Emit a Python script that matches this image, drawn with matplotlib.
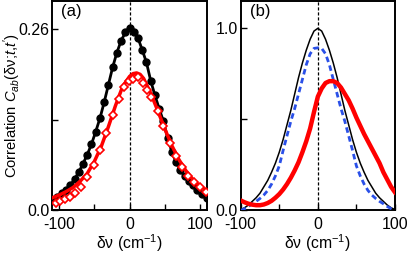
import numpy             as np
import matplotlib
matplotlib.use('Agg')
import matplotlib.pyplot as plt

plt.rcParams['font.family']         = ['Liberation Sans', 'DejaVu Sans']
plt.rcParams['mathtext.fontset']    = 'custom'
plt.rcParams['mathtext.rm']         = 'Liberation Sans'
plt.rcParams['mathtext.it']         = 'Liberation Sans:italic'
plt.rcParams['axes.unicode_minus']  = False

# panel (a): measured correlation (dots / diamonds) and fits (lines)
black_x = [-110, -103, -96, -90, -84, -78, -72, -66, -60, -54, -48, -42, -36, -30, -24, -18, -12, -6, 0,
           6, 12, 18, 24, 30, 36, 42, 48, 54, 60, 66, 72, 78, 84, 90, 96, 103, 110]
black_y = [0.015, 0.019, 0.025, 0.030, 0.036, 0.045, 0.055, 0.067, 0.080, 0.095, 0.113, 0.132, 0.155,
           0.180, 0.205, 0.226, 0.243, 0.255, 0.262, 0.256, 0.247, 0.230, 0.212, 0.186, 0.165, 0.146,
           0.128, 0.104, 0.084, 0.069, 0.058, 0.049, 0.042, 0.036, 0.030, 0.024, 0.018]

red_x = [-105, -98, -91, -84, -77, -69, -60, -51, -42, -33, -24, -15, -8, -1, 5, 12, 19, 25, 31,
         40, 48, 57, 66, 75, 83, 92, 100, 108]
red_y = [0.011, 0.013, 0.016, 0.020, 0.025, 0.033, 0.048, 0.065, 0.087, 0.111, 0.137, 0.159, 0.177,
         0.186, 0.189, 0.191, 0.183, 0.173, 0.162, 0.142, 0.121, 0.097, 0.078, 0.062, 0.050, 0.041,
         0.033, 0.026]

red_fit_x = [-110, -100, -90, -80, -70, -60, -50, -40, -30, -20, -10, 0, 5, 10, 15, 20, 30, 40, 50,
             60, 70, 80, 90, 100, 110]
red_fit_y = [0.018, 0.022, 0.027, 0.033, 0.042, 0.053, 0.070, 0.092, 0.120, 0.150, 0.177, 0.192,
             0.196, 0.197, 0.195, 0.189, 0.168, 0.143, 0.117, 0.093, 0.073, 0.057, 0.044, 0.035, 0.028]

# panel (b): model curves
model_x = [-100, -95, -90, -85, -80, -75, -70, -65, -60, -55, -50, -45, -40, -35, -30, -25, -20, -15,
           -10, -5, 0, 5, 10, 15, 20, 25, 30, 35, 40, 45, 50, 55, 60, 65, 70, 75, 80, 85, 90, 95, 100]
black_b = [0.005, 0.015, 0.03, 0.05, 0.07, 0.095, 0.13, 0.165, 0.21, 0.26, 0.32, 0.39, 0.47, 0.55,
           0.64, 0.73, 0.81, 0.88, 0.94, 0.985, 1.0, 0.985, 0.94, 0.88, 0.81, 0.73, 0.64, 0.55, 0.47,
           0.39, 0.32, 0.26, 0.21, 0.165, 0.13, 0.095, 0.07, 0.05, 0.03, 0.015, 0.005]
blue_b  = [0.0, 0.01, 0.022, 0.037, 0.05, 0.066, 0.085, 0.11, 0.145, 0.19, 0.245, 0.33, 0.41, 0.49,
           0.56, 0.64, 0.72, 0.80, 0.86, 0.89, 0.893, 0.89, 0.86, 0.80, 0.72, 0.64, 0.56, 0.49, 0.41,
           0.33, 0.245, 0.19, 0.145, 0.11, 0.085, 0.066, 0.05, 0.037, 0.022, 0.01, 0.0]
red_b   = [0.055, 0.045, 0.037, 0.032, 0.029, 0.029, 0.033, 0.041, 0.053, 0.070, 0.090, 0.115, 0.145,
           0.180, 0.220, 0.265, 0.320, 0.380, 0.450, 0.540, 0.625, 0.670, 0.700, 0.710, 0.710, 0.700,
           0.675, 0.640, 0.605, 0.560, 0.510, 0.465, 0.420, 0.380, 0.340, 0.300, 0.260, 0.210, 0.170,
           0.130, 0.100]

fig = plt.figure(figsize = (4.08, 2.57), dpi = 100)
ax1 = fig.add_axes([0.1275, 0.181, 0.38, 0.815])
ax2 = fig.add_axes([0.590, 0.181, 0.378, 0.815])

ax1.plot(black_x, black_y, color = 'black', lw = 2, marker = 'o', ms = 5, zorder = 3)
ax1.plot(red_fit_x, red_fit_y, color = 'red', lw = 2.5, zorder = 4)
ax1.plot(red_x, red_y, ls = 'none', marker = 'D', ms = 4.5, mfc = 'white', mec = 'red', mew = 1.2, zorder = 5)
ax1.axvline(0, color = 'black', lw = 0.9, ls = (0, (2.5, 1.5)), zorder = 2)
ax1.set_xlim(-110, 110)
ax1.set_ylim(0, 0.30)
ax1.set_yticks([0, 0.13, 0.26])
ax1.set_yticklabels(['0.0', '', '0.26'])
ax1.set_ylabel("Correlation $C_{ab}$(δν;$t$,$t'$)", fontsize = 10.6)
ax1.yaxis.set_label_coords(-0.19, 0.5)
ax1.text(0.06, 0.985, '(a)', transform = ax1.transAxes, fontsize = 12, va = 'top')

ax2.plot(model_x, black_b, color = 'black', lw = 1.1, zorder = 3)
ax2.plot(model_x, blue_b, color = '#2a50e8', lw = 2, ls = (0, (2, 1.3)), zorder = 4)
ax2.plot(model_x, red_b, color = 'red', lw = 3.2, zorder = 5)
ax2.axvline(0, color = 'black', lw = 0.9, ls = (0, (2.5, 1.5)), zorder = 2)
ax2.set_xlim(-100, 100)
ax2.set_ylim(0, 1.15)
ax2.set_yticks([0, 0.5, 1.0])
ax2.set_yticklabels(['0.0', '', '1.0'])
ax2.text(0.06, 0.985, '(b)', transform = ax2.transAxes, fontsize = 12, va = 'top')

for ax in [ax1, ax2]:
    ax.set_xticks([-100, -50, 0, 50, 100])
    ax.set_xticklabels(['-100', '', '0', '', '100'])
    ax.set_xlabel('δν (cm$^{-1}$)', fontsize = 11.3, labelpad = 0)
    ax.tick_params(direction = 'in', length = 4, width = 1, labelsize = 11.5, pad = 2)
    ax.tick_params(axis = 'x', pad = 5)
    for s in ax.spines.values():
        s.set_linewidth(1.4)

fig.savefig('out.png', dpi = 100)
